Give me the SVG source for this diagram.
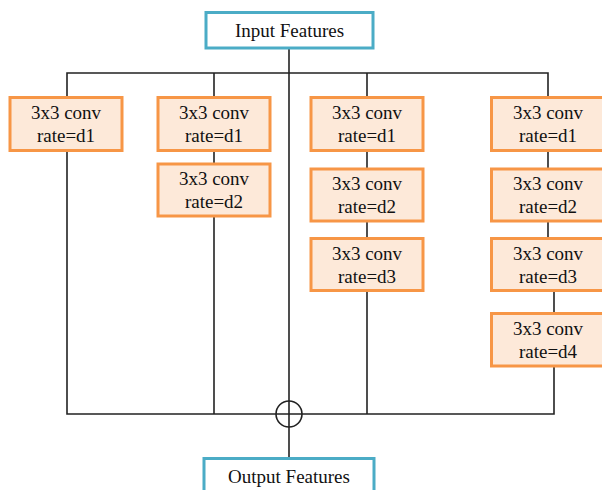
<svg xmlns="http://www.w3.org/2000/svg" width="602" height="490" viewBox="0 0 602 490" font-family="'Liberation Serif', 'Times New Roman', serif" font-size="19">
  <style>
    .io rect { fill: #ffffff; stroke: #4bacc6; stroke-width: 3; }
    .conv rect { fill: #fde9d9; stroke: #f79646; stroke-width: 3; }
    text { fill: #111; text-anchor: middle; }
    .wire { fill: none; stroke: #222; stroke-width: 1.6; }
  </style>
  <rect width="602" height="490" fill="#ffffff"/>

  <!-- connectors -->
  <g id="connectors" class="wire">
    <!-- trunk from input through the sum node to output -->
    <line x1="289" y1="48" x2="289" y2="458"/>
    <!-- top fan-out bus -->
    <polyline points="67,97 67,73 548,73 548,97"/>
    <line x1="214" y1="73" x2="214" y2="97"/>
    <line x1="367" y1="73" x2="367" y2="97"/>
    <!-- branch chains -->
    <line x1="214" y1="151" x2="214" y2="164"/>
    <line x1="367" y1="151" x2="367" y2="169"/>
    <line x1="367" y1="221" x2="367" y2="238"/>
    <line x1="548" y1="151" x2="548" y2="169"/>
    <line x1="548" y1="221" x2="548" y2="238"/>
    <line x1="554" y1="290" x2="554" y2="313"/>
    <!-- bottom merge bus -->
    <polyline points="67,151 67,414 554,414 554,366"/>
    <line x1="214" y1="216" x2="214" y2="414"/>
    <line x1="367" y1="290" x2="367" y2="414"/>
    <!-- sum node -->
    <circle cx="289" cy="414" r="13" fill="none"/>
  </g>

  <g id="input" class="io">
    <rect x="206" y="12.5" width="167" height="35.5"/>
    <text x="289.5" y="37">Input Features</text>
  </g>

  <!-- branch 1 -->
  <g id="b1c1" class="conv">
    <rect x="10" y="97.5" width="112" height="53"/>
    <text x="66" y="119">3x3 conv</text>
    <text x="66" y="142">rate=d1</text>
  </g>

  <!-- branch 2 -->
  <g id="b2c1" class="conv">
    <rect x="158" y="97.5" width="112" height="53"/>
    <text x="214" y="119">3x3 conv</text>
    <text x="214" y="142">rate=d1</text>
  </g>
  <g id="b2c2" class="conv">
    <rect x="158" y="164" width="112" height="52"/>
    <text x="214" y="185">3x3 conv</text>
    <text x="214" y="208">rate=d2</text>
  </g>

  <!-- branch 3 -->
  <g id="b3c1" class="conv">
    <rect x="311" y="97.5" width="112" height="53"/>
    <text x="367" y="119">3x3 conv</text>
    <text x="367" y="142">rate=d1</text>
  </g>
  <g id="b3c2" class="conv">
    <rect x="311" y="169" width="112" height="52"/>
    <text x="367" y="190">3x3 conv</text>
    <text x="367" y="213">rate=d2</text>
  </g>
  <g id="b3c3" class="conv">
    <rect x="311" y="238.5" width="112" height="52"/>
    <text x="367" y="260">3x3 conv</text>
    <text x="367" y="283">rate=d3</text>
  </g>

  <!-- branch 4 -->
  <g id="b4c1" class="conv">
    <rect x="491.5" y="97.5" width="112" height="53"/>
    <text x="548" y="119">3x3 conv</text>
    <text x="548" y="142">rate=d1</text>
  </g>
  <g id="b4c2" class="conv">
    <rect x="491.5" y="169" width="112" height="52"/>
    <text x="548" y="190">3x3 conv</text>
    <text x="548" y="213">rate=d2</text>
  </g>
  <g id="b4c3" class="conv">
    <rect x="491.5" y="238.5" width="112" height="52"/>
    <text x="548" y="260">3x3 conv</text>
    <text x="548" y="283">rate=d3</text>
  </g>
  <g id="b4c4" class="conv">
    <rect x="491.5" y="313.5" width="112" height="52.5"/>
    <text x="548" y="335">3x3 conv</text>
    <text x="548" y="358">rate=d4</text>
  </g>

  <g id="output" class="io">
    <rect x="204" y="458.5" width="170" height="40"/>
    <text x="289" y="483">Output Features</text>
  </g>
</svg>
